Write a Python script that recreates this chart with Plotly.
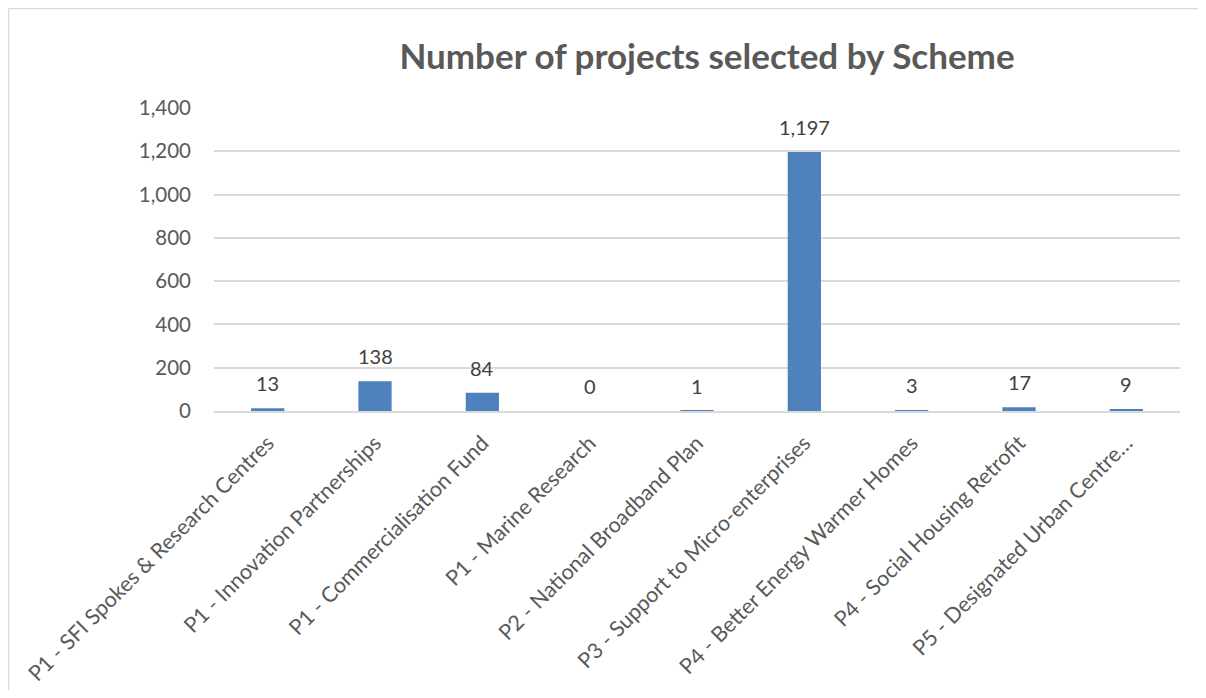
import plotly.graph_objects as go

categories = [
    "P1 - SFI Spokes & Research Centres",
    "P1 - Innovation Partnerships",
    "P1 - Commercialisation Fund",
    "P1 - Marine Research",
    "P2 - National Broadband Plan",
    "P3 - Support to Micro-enterprises",
    "P4 - Better Energy Warmer Homes",
    "P4 - Social Housing Retrofit",
    "P5 - Designated Urban Centre…",
]
projects = [13, 138, 84, 0, 1, 1197, 3, 17, 9]
y_ticks = [0, 200, 400, 600, 800, 1000, 1200, 1400]

# page body has an 8px margin; figure drawn from (8, 8)
OFF = 8
W, H = 1206 - 2 * OFF, 698 - 2 * OFF
ml, mr, mt, mb = 214 - OFF, 1206 - OFF - 1180, 108 - OFF, (698 - OFF) - 411

fig = go.Figure(
    go.Bar(
        x=categories,
        y=projects,
        marker=dict(color="#4F81BD", line=dict(width=0)),
        width=0.31,
        hoverinfo="x+y",
    )
)

for c, v in zip(categories, projects):
    fig.add_annotation(
        x=c, y=v, text=f"{v:,}", showarrow=False,
        yanchor="middle", yshift=25,
        font=dict(family="Lato", size=20, color="#404040"),
    )

pw = W - ml - mr
ph = H - mt - mb
# chart-area border: top and left edges only visible
fig.add_shape(type="line", xref="paper", yref="paper",
              x0=-(ml - 0.5) / pw, x1=(W - ml + 20) / pw,
              y0=1 + (mt - 0.5) / ph, y1=1 + (mt - 0.5) / ph,
              line=dict(color="#D9D9D9", width=1.5))
fig.add_shape(type="line", xref="paper", yref="paper",
              x0=-(ml - 0.5) / pw, x1=-(ml - 0.5) / pw,
              y0=-(mb + 20) / ph, y1=1 + (mt - 0.5) / ph,
              line=dict(color="#D9D9D9", width=1.5))

fig.update_layout(
    width=W, height=H,
    margin=dict(l=ml, r=mr, t=mt, b=mb, autoexpand=False),
    paper_bgcolor="white", plot_bgcolor="white",
    title=dict(
        text="<b>Number of projects selected by Scheme</b>",
        x=(707 - OFF) / W, xanchor="center", y=1 - (57 - OFF) / H, yanchor="middle",
        font=dict(family="Lato", size=35, color="#595959"),
    ),
    font=dict(family="Lato", size=20, color="#595959"),
    showlegend=False,
    bargap=0.69,
)
fig.update_xaxes(
    tickangle=-45, showgrid=False, showline=True, linecolor="#D9D9D9", linewidth=2,
    ticks="", tickfont=dict(family="Lato", size=21.5, color="#595959"),
    ticklabelstandoff=9, automargin=False,
)
fig.update_yaxes(
    range=[0, 1400], tickvals=y_ticks, tickformat=",", showgrid=True,
    gridcolor="#D9D9D9", gridwidth=1.5, zeroline=False, showline=False, ticks="",
    ticklabelstandoff=22, tickfont=dict(family="Lato", size=20.5, color="#595959"),
    automargin=False,
)

fig.write_html("out.html")
